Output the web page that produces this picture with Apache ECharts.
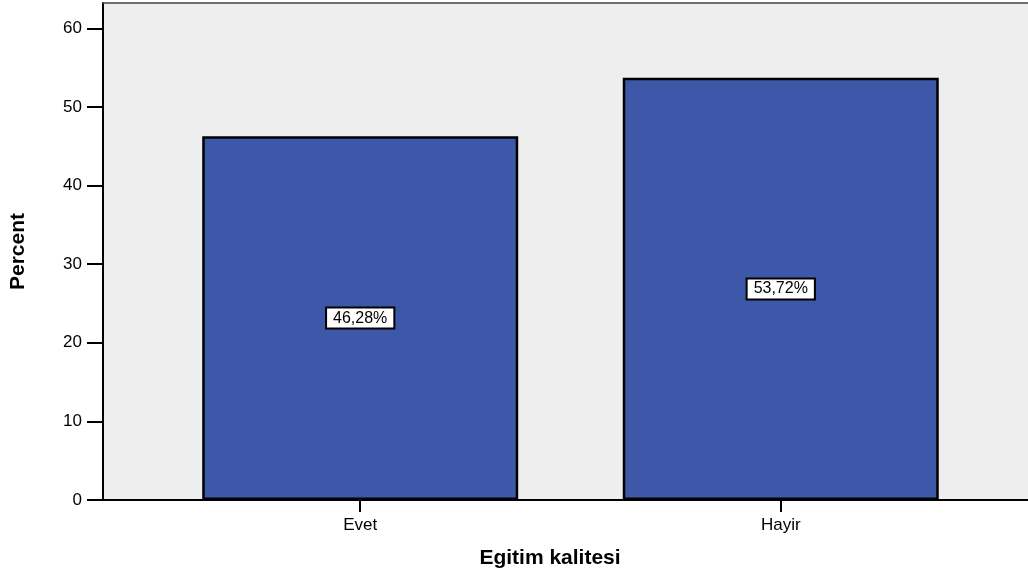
<!DOCTYPE html>
<html>
<head>
<meta charset="utf-8">
<script src="https://cdn.jsdelivr.net/npm/echarts@6/dist/echarts.min.js"></script>
<style>
  html, body { margin: 0; padding: 0; background: #fff; }
  #chart { width: 1028px; height: 577px; }
</style>
</head>
<body>
<div id="chart"></div>
<script>
// data
const categories = ['Evet', 'Hayir']
const percents = [46.28, 53.72]
const yTicks = [0, 10, 20, 30, 40, 50, 60]
const xName = 'Egitim kalitesi'
const yName = 'Percent'

const font = '"Liberation Sans", Arial, sans-serif'
const xMin = -0.6116
const xMax = 1.5879 // plot runs past the right edge of the picture

const chart = echarts.init(document.getElementById('chart'))

const option = {
  animation: false,
  textStyle: { fontFamily: font },
  title: {
    text: xName,
    left: 545,
    top: 543,
    textAlign: 'center',
    textStyle: { fontFamily: font, fontSize: 21, fontWeight: 'bold', color: '#000' }
  },
  grid: {
    left: 102,
    top: 3,
    right: 0,
    bottom: 77,
    show: true,
    backgroundColor: '#eeeeee',
    borderWidth: 0
  },
  xAxis: [
    {
      type: 'value',
      min: xMin,
      max: xMax,
      splitLine: { show: false },
      axisLine: { show: true, onZero: false, lineStyle: { color: '#000', width: 2 } },
      axisTick: {
        show: true,
        customValues: categories.map((c, i) => i),
        length: 12,
        lineStyle: { color: '#000', width: 2 }
      },
      axisLabel: {
        customValues: categories.map((c, i) => i),
        formatter: (v) => categories[Math.round(v)] || '',
        margin: 17,
        fontSize: 17,
        color: '#000',
        fontFamily: font
      }
    },
    {
      // top frame line only
      type: 'value',
      position: 'top',
      min: xMin,
      max: xMax,
      splitLine: { show: false },
      axisTick: { show: false },
      axisLabel: { show: false },
      axisLine: { show: true, onZero: false, lineStyle: { color: '#444', width: 1.5 } }
    }
  ],
  yAxis: {
    type: 'value',
    min: 0,
    max: 63.23,
    name: yName,
    nameLocation: 'middle',
    nameGap: 74,
    nameTextStyle: { fontFamily: font, fontSize: 21, fontWeight: 'bold', color: '#000' },
    splitLine: { show: false },
    axisLine: { show: true, onZero: false, lineStyle: { color: '#000', width: 2 } },
    axisTick: {
      show: true,
      customValues: yTicks,
      length: 16,
      lineStyle: { color: '#000', width: 2 }
    },
    axisLabel: {
      customValues: yTicks,
      margin: 21,
      fontSize: 17,
      color: '#000',
      fontFamily: font
    }
  },
  series: [
    {
      type: 'bar',
      barWidth: 316,
      data: categories.map((c, i) => [i, percents[i]]),
      itemStyle: {
        color: '#3d58a9',
        borderColor: '#000',
        borderWidth: 2.5
      },
      label: {
        show: true,
        position: 'inside',
        formatter: (p) => p.value[1].toFixed(2).replace('.', ',') + '%',
        color: '#000',
        fontSize: 16,
        fontFamily: font,
        lineHeight: 15,
        backgroundColor: '#fff',
        borderColor: '#000',
        borderWidth: 2,
        padding: [2, 6, 2, 6]
      }
    }
  ]
}

chart.setOption(option)
</script>
</body>
</html>
